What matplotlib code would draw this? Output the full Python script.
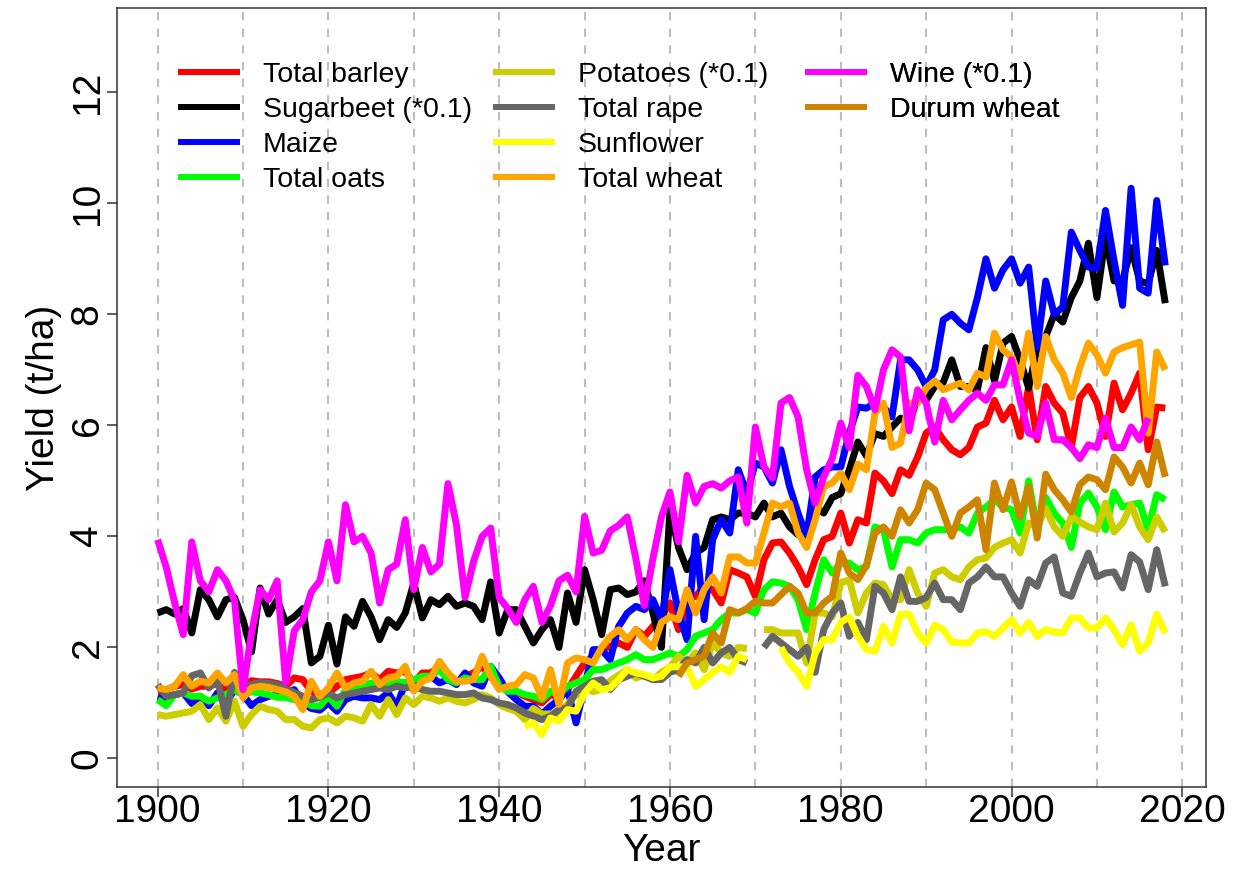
import numpy as np
import matplotlib
matplotlib.use('Agg')
import matplotlib.pyplot as plt
from matplotlib.lines import Line2D

plt.rcParams['font.family'] = ['Liberation Sans', 'DejaVu Sans']

years = np.arange(1900, 2019)

# yields in t/ha, one value per year from 1900 to 2018 (None = no data)
barley = [1.2, 1.24, 1.3, 1.33, 1.25, 1.3, 1.3, 1.35, 1.25, 1.35,
          1.3, 1.4, 1.38, 1.38, 1.35, 1.3, 1.45, 1.42, 1.2, 1.15,
          1.18, 1.3, 1.42, 1.45, 1.48, 1.54, 1.42, 1.57, 1.54, 1.57,
          1.36, 1.54, 1.54, 1.66, 1.48, 1.36, 1.48, 1.54, 1.66, 1.48,
          1.3, 1.25, 1.2, 1.12, 1.06, 1.0, 1.15, 1.1, 1.24, 1.48,
          1.72, 1.84, 1.96, 2.02, 2.08, 2.0, 2.32, 2.2, 2.38, 2.55,
          2.8, 2.32, 2.86, 2.92, 3.1, 3.04, 2.8, 3.4, 3.34, 3.27,
          2.92, 3.58, 3.88, 3.9, 3.7, 3.45, 3.13, 3.58, 3.94, 4.0,
          4.42, 3.88, 4.3, 4.24, 5.14, 5.0, 4.77, 5.2, 5.1, 5.43,
          5.86, 5.97, 5.74, 5.56, 5.47, 5.6, 5.97, 6.04, 6.45, 6.1,
          6.33, 5.8, 6.7, 5.74, 6.7, 6.4, 6.22, 5.6, 6.5, 6.7,
          6.4, 5.8, 6.76, 6.28, 6.58, 6.94, 5.56, 6.33, 6.31]

sugarbeet = [2.62, 2.68, 2.6, 2.7, 2.26, 3.04, 2.86, 2.55, 2.86, 2.9,
             2.5, 1.92, 3.07, 2.6, 2.86, 2.45, 2.55, 2.7, 1.72, 1.84,
             2.4, 1.7, 2.55, 2.38, 2.83, 2.55, 2.14, 2.5, 2.36, 2.62,
             3.16, 2.53, 2.86, 2.77, 2.92, 2.74, 2.8, 2.74, 2.5, 3.18,
             2.26, 2.68, 2.68, 2.38, 2.08, 2.32, 2.5, 2.0, 2.98, 2.45,
             3.4, 2.86, 2.23, 3.04, 3.07, 2.95, 3.0, 3.2, 2.62, 2.0,
             4.48, 3.8, 3.4, 3.7, 3.8, 4.3, 4.35, 4.3, 4.42, 4.42,
             4.35, 4.6, 4.35, 4.42, 4.17, 4.03, 4.06, 4.53, 4.42, 4.7,
             4.77, 5.2, 5.7, 5.45, 5.85, 5.8, 5.97, 6.13, 6.04, 6.5,
             6.45, 6.7, 6.77, 7.18, 6.7, 6.7, 6.64, 7.4, 6.8, 7.48,
             7.6, 7.18, 6.67, 7.4, 7.6, 8.0, 7.86, 8.3, 8.6, 9.28,
             8.3, 9.4, 8.6, 8.6, 9.2, 8.6, 8.55, 9.15, 8.2]

maize = [1.1, 1.06, 1.15, 1.18, 0.99, 1.12, 0.95, 1.18, 1.0, 1.24,
         1.15, 0.95, 1.06, 1.12, 1.15, 1.18, 1.24, 1.0, 0.9, 0.87,
         1.0, 0.85, 1.06, 1.12, 1.09, 1.09, 1.06, 1.18, 0.94, 1.36,
         1.24, 1.45, 1.48, 1.36, 1.42, 1.33, 1.54, 1.36, 1.3, 1.66,
         1.45, 1.2, 1.06, 0.94, 0.94, 0.8, 0.94, 1.06, 1.24, 0.64,
         1.3, 1.96, 1.96, 1.78, 2.38, 2.62, 2.74, 2.68, 2.86, 2.5,
         3.4, 2.62, 2.14, 4.0, 2.5, 3.94, 4.3, 4.06, 5.2, 4.77,
         5.32, 5.25, 4.96, 5.56, 4.9, 4.42, 4.0, 5.07, 5.2, 5.25,
         5.25, 5.86, 6.33, 6.31, 6.4, 6.33, 6.15, 7.18, 7.18, 7.0,
         6.7, 7.0, 7.9, 8.0, 7.84, 7.72, 8.3, 9.0, 8.47, 8.8,
         9.0, 8.56, 8.85, 7.4, 8.6, 8.0, 8.13, 9.48, 9.15, 8.85,
         8.83, 9.87, 8.97, 8.16, 10.27, 8.47, 8.38, 10.05, 8.88]

oats = [1.06, 0.95, 1.15, 1.18, 1.12, 1.12, 1.03, 1.09, 1.15, 1.24,
        1.15, 1.2, 1.18, 1.15, 1.1, 1.1, 1.06, 1.06, 0.95, 0.94,
        1.12, 0.94, 1.24, 1.27, 1.3, 1.36, 1.33, 1.36, 1.39, 1.36,
        1.42, 1.48, 1.48, 1.6, 1.42, 1.36, 1.45, 1.42, 1.42, 1.66,
        1.3, 1.21, 1.21, 1.15, 1.12, 1.06, 1.21, 1.15, 1.3, 1.36,
        1.42, 1.6, 1.6, 1.66, 1.72, 1.78, 1.87, 1.78, 1.78, 1.84,
        1.9, 1.84, 1.96, 2.2, 2.26, 2.32, 2.5, 2.62, 2.62, 2.68,
        2.62, 3.04, 3.18, 3.16, 3.1, 2.86, 2.32, 2.98, 3.58, 3.34,
        3.52, 3.52, 3.4, 3.45, 4.17, 4.12, 3.45, 3.94, 3.94, 3.88,
        4.06, 4.12, 4.12, 4.12, 4.17, 4.06, 4.42, 4.53, 4.66, 4.53,
        4.48, 4.06, 5.0, 4.12, 4.7, 4.42, 4.24, 3.8, 4.6, 4.78,
        4.53, 4.12, 4.8, 4.53, 4.57, 4.6, 4.12, 4.75, 4.66]

potatoes = [0.79, 0.76, 0.79, 0.82, 0.85, 0.97, 0.7, 0.91, 0.67, 1.03,
            0.58, 0.79, 0.94, 0.88, 0.85, 0.7, 0.7, 0.58, 0.55, 0.7,
            0.73, 0.64, 0.76, 0.73, 0.67, 0.97, 0.76, 1.06, 0.79, 1.09,
            0.97, 1.12, 1.09, 1.03, 1.09, 1.03, 1.0, 1.06, 1.15, 1.09,
            0.97, 0.9, 0.85, 0.7, 0.9, 0.8, 0.8, 0.8, 0.98, 1.15,
            1.3, 1.2, 1.25, 1.4, 1.5, 1.6, 1.45, 1.5, 1.42, 1.55,
            1.65, 1.84, 1.72, 1.9, 1.6, 2.08, 1.9, 1.84, 2.0, 1.98,
            None, 2.32, 2.32, 2.26, 2.26, 2.26, 1.72, 2.62, 2.62, 2.55,
            3.16, 3.22, 2.62, 2.98, 3.16, 3.13, 2.86, 2.86, 3.4, 2.98,
            2.74, 3.34, 3.4, 3.27, 3.22, 3.45, 3.58, 3.61, 3.8, 3.88,
            3.94, 3.7, 4.24, 4.17, 4.5, 4.17, 4.0, 4.35, 4.26, 4.17,
            4.12, 4.6, 4.08, 4.24, 4.57, 4.17, 3.94, 4.35, 4.08]

rape = [1.33, 1.12, 1.15, 1.18, 1.49, 1.54, 1.27, 1.42, 0.76, 1.55,
        1.3, 1.33, 1.37, 1.35, 1.33, 1.25, 1.19, 1.12, 1.06, 1.1,
        1.18, 1.09, 1.15, 1.18, 1.21, 1.24, 1.27, 1.24, 1.3, 1.27,
        1.3, 1.24, 1.21, 1.21, 1.18, 1.15, 1.15, 1.18, 1.09, 1.06,
        1.0, 0.97, 0.91, 0.82, 0.76, 0.7, 0.76, 0.88, 0.91, 1.21,
        1.3, 1.39, 1.42, 1.24, 1.42, 1.48, 1.54, 1.48, 1.42, 1.42,
        1.55, 1.6, 1.78, 1.72, 2.0, 1.72, 1.9, 2.0, 1.78, 1.72,
        None, 2.0, 2.2, 2.08, 1.96, 1.84, 2.0, 1.55, 2.32, 2.62,
        2.8, 2.2, 2.45, 2.14, 3.1, 2.98, 2.68, 3.27, 2.83, 2.83,
        2.9, 3.16, 2.86, 2.86, 2.68, 3.16, 3.27, 3.45, 3.27, 3.27,
        2.98, 2.74, 3.22, 3.1, 3.52, 3.63, 2.98, 2.92, 3.34, 3.7,
        3.27, 3.34, 3.36, 3.07, 3.67, 3.54, 3.04, 3.76, 3.1]

sunflower = [None] * 43 + [
             0.58, 0.64, 0.43, 0.73, 0.67, 0.88, 0.85,
             1.18, 1.36, 1.24, 1.27, 1.42, 1.6, 1.54, 1.51, 1.45, 1.48,
             1.65, 1.65, 1.65, 1.3, 1.42, 1.55, 1.65, 1.55, 1.84, 1.78,
             None, None, None, 2.0, 1.72, 1.55, 1.3, 1.9, 2.14, 2.14,
             2.45, 2.55, 2.2, 1.96, 1.93, 2.38, 2.08, 2.6, 2.6, 2.26,
             2.08, 2.4, 2.32, 2.1, 2.08, 2.08, 2.26, 2.28, 2.2, 2.35,
             2.5, 2.26, 2.45, 2.2, 2.32, 2.28, 2.26, 2.53, 2.53, 2.35,
             2.35, 2.53, 2.32, 2.05, 2.41, 1.93, 2.08, 2.6, 2.26]

wheat = [1.27, 1.24, 1.3, 1.51, 1.3, 1.39, 1.36, 1.54, 1.36, 1.51,
         1.09, 1.27, 1.3, 1.28, 1.24, 1.2, 1.12, 0.88, 1.39, 1.12,
         1.27, 1.54, 1.27, 1.36, 1.39, 1.57, 1.33, 1.45, 1.48, 1.66,
         1.21, 1.39, 1.45, 1.75, 1.54, 1.39, 1.39, 1.42, 1.84, 1.48,
         1.24, 1.3, 1.33, 1.51, 1.45, 1.09, 1.6, 0.97, 1.72, 1.81,
         1.78, 1.72, 2.0, 2.2, 2.32, 2.14, 2.32, 2.14, 2.0, 2.45,
         2.55, 2.5, 3.04, 2.62, 3.04, 3.27, 2.98, 3.63, 3.63, 3.52,
         3.52, 4.06, 4.6, 4.53, 4.6, 4.06, 3.8, 4.3, 4.9, 4.96,
         5.14, 4.84, 5.3, 5.2, 6.22, 6.4, 5.6, 5.68, 6.4, 6.4,
         6.67, 6.8, 6.64, 6.7, 6.76, 6.64, 6.94, 6.87, 7.66, 7.36,
         7.23, 6.87, 7.66, 6.7, 7.6, 7.18, 6.94, 6.5, 7.05, 7.48,
         7.27, 6.94, 7.32, 7.4, 7.45, 7.5, 5.86, 7.32, 7.0]

wine = [3.94, 3.45, 2.8, 2.23, 3.9, 3.2, 3.0, 3.4, 3.2, 2.85,
        1.24, 2.26, 3.04, 2.86, 3.2, 1.37, 2.3, 2.5, 3.0, 3.2,
        3.9, 3.2, 4.57, 3.9, 4.0, 3.7, 2.8, 3.4, 3.5, 4.3,
        3.04, 3.8, 3.36, 3.5, 4.95, 4.2, 2.9, 3.55, 4.0, 4.15,
        2.9, 2.7, 2.45, 2.86, 3.1, 2.45, 2.75, 3.2, 3.3, 3.0,
        4.36, 3.7, 3.75, 4.1, 4.2, 4.35, 3.6, 2.75, 3.6, 4.35,
        4.8, 3.9, 5.1, 4.6, 4.9, 4.95, 4.87, 5.0, 5.07, 4.24,
        5.97, 5.25, 5.05, 6.4, 6.5, 6.15, 5.2, 4.6, 5.07, 5.4,
        6.04, 5.6, 6.9, 6.7, 6.28, 7.0, 7.36, 7.23, 5.9, 6.64,
        6.4, 5.7, 6.45, 6.1, 6.28, 6.45, 6.58, 6.45, 6.73, 6.73,
        7.18, 6.45, 5.86, 5.8, 6.4, 5.74, 5.74, 5.6, 5.4, 5.65,
        5.6, 6.13, 5.6, 5.6, 5.97, 5.74, 6.13, None, None]

durum = [None] * 61 + [
         1.48, 1.72, 1.78, 1.84, 2.26, 2.08, 2.68, 2.62, 2.7,
         2.83, 2.8, 2.8, 2.95, 3.1, 2.98, 2.62, 2.62, 2.8, 2.92,
         3.7, 3.34, 3.22, 3.48, 4.06, 4.17, 4.0, 4.48, 4.24, 4.48,
         4.96, 4.84, 4.42, 4.0, 4.42, 4.53, 4.66, 3.76, 4.96, 4.48,
         4.98, 4.35, 4.9, 3.97, 5.12, 4.84, 4.66, 4.44, 4.93, 5.07,
         5.02, 4.84, 5.43, 5.25, 4.96, 5.32, 4.93, 5.7, 5.07]

labels = ['Total barley', 'Sugarbeet (*0.1)', 'Maize', 'Total oats',
          'Potatoes (*0.1)', 'Total rape', 'Sunflower', 'Total wheat',
          'Wine (*0.1)', 'Durum wheat']
series = [barley, sugarbeet, maize, oats, potatoes, rape, sunflower,
          wheat, wine, durum]
colors = ['#FF0000', '#000000', '#0000FF', '#00FF00', '#CDCD00',
          '#666666', '#FFFF00', '#FFA500', '#FF00FF', '#CD8500']

fig = plt.figure(figsize=(12.48, 8.69), dpi=100)
ax = fig.add_axes([0.094, 0.094, 0.872, 0.897])

for x in range(1900, 2021, 10):
    ax.axvline(x, color='#BEBEBE', lw=1.5, ls=(0, (4, 4)), zorder=0)

for vals, col in zip(series, colors):
    y = np.array([np.nan if v is None else v for v in vals], dtype=float)
    ax.plot(years, y, color=col, lw=5.0, solid_joinstyle='round',
            solid_capstyle='butt')

ax.set_xlim(1895.28, 2022.72)
ax.set_ylim(-0.52, 13.52)
ax.set_xticks(range(1900, 2021, 20))
ax.set_yticks(range(0, 13, 2))
ax.tick_params(axis='both', labelsize=28, length=7, width=1.1,
               color='#333333')
ax.tick_params(axis='x', pad=-2)
ax.tick_params(axis='y', pad=1.5)
for lab in ax.get_yticklabels():
    lab.set_rotation(90)
    lab.set_va('center')
for s in ax.spines.values():
    s.set_linewidth(1.1)
    s.set_color('#333333')
ax.set_xlabel('Year', fontsize=28, labelpad=2)
ax.set_ylabel('Yield (t/ha)', fontsize=28, labelpad=5.5)

# legend in three fixed columns (4, 4, 2 entries)
groups = [(0, 4, 0.0588), (4, 8, 0.3483), (8, 10, 0.6351)]
for start, stop, xpos in groups:
    handles = [Line2D([0], [0], color=colors[i], lw=4.3)
               for i in range(start, stop)]
    leg = ax.legend(handles, labels[start:stop], loc='upper left',
                    bbox_to_anchor=(xpos, 0.930), frameon=False,
                    fontsize=20.5, handlelength=1.95, handletextpad=0.92,
                    labelspacing=0.31, borderpad=0, borderaxespad=0)
    ax.add_artist(leg)

fig.savefig('out.png', dpi=100)
